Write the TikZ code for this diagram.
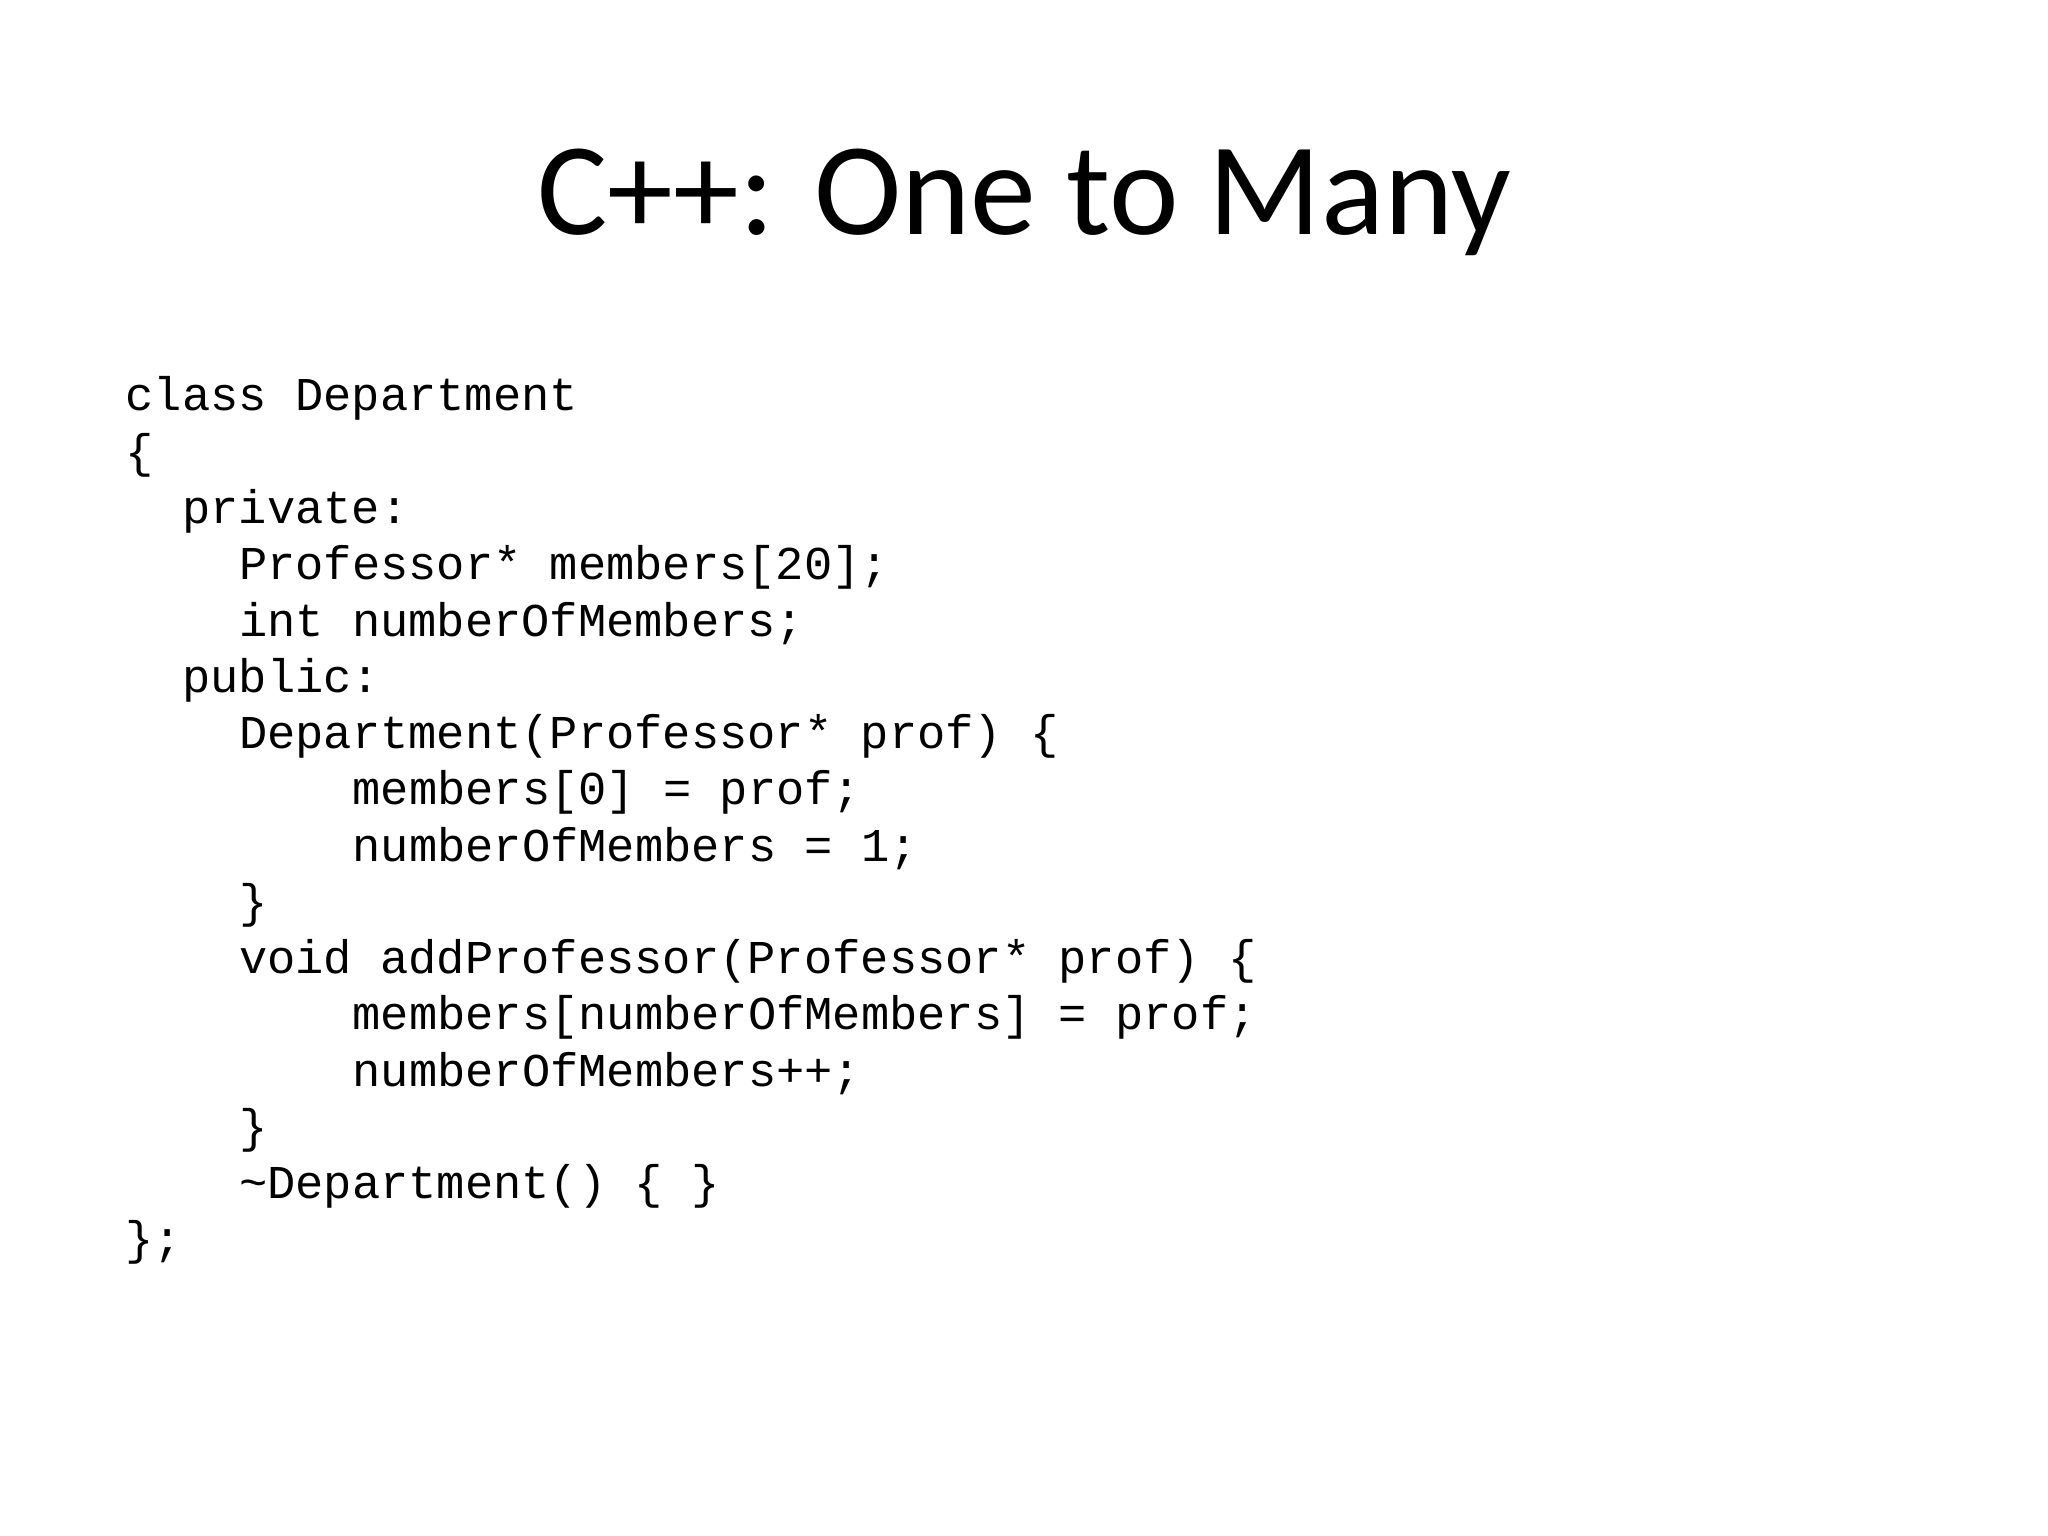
\documentclass[tikz,border=0pt]{standalone}
\usepackage{fontspec}
\setmainfont{Carlito}
\newfontfamily\codefont{Liberation Mono}
\begin{document}
\begin{tikzpicture}[x=1cm,y=1cm,
  code/.style={anchor=base west,inner sep=0pt,font=\codefont\fontsize{13.4pt}{15.9pt}\selectfont}]
\useasboundingbox (0,0) rectangle (20.48,-15.36);
\node[anchor=base,inner sep=0pt,font=\fontsize{37.5pt}{45pt}\selectfont] (title) at (10.24,-2.35) {C++: One to Many};
\def\cw{0.2835}
\def\lh{0.5625}
\node[code] (l1) at (1.25,-4.11) {class Department};
\node[code] (l2) at (1.25,-4.11-1*\lh) {\{};
\node[code] (l3) at (1.25+2*\cw,-4.11-2*\lh) {private:};
\node[code] (l4) at (1.25+4*\cw,-4.11-3*\lh) {Professor* members[20];};
\node[code] (l5) at (1.25+4*\cw,-4.11-4*\lh) {int numberOfMembers;};
\node[code] (l6) at (1.25+2*\cw,-4.11-5*\lh) {public:};
\node[code] (l7) at (1.25+4*\cw,-4.11-6*\lh) {Department(Professor* prof) \{};
\node[code] (l8) at (1.25+8*\cw,-4.11-7*\lh) {members[0] = prof;};
\node[code] (l9) at (1.25+8*\cw,-4.11-8*\lh) {numberOfMembers = 1;};
\node[code] (l10) at (1.25+4*\cw,-4.11-9*\lh) {\}};
\node[code] (l11) at (1.25+4*\cw,-4.11-10*\lh) {void addProfessor(Professor* prof) \{};
\node[code] (l12) at (1.25+8*\cw,-4.11-11*\lh) {members[numberOfMembers] = prof;};
\node[code] (l13) at (1.25+8*\cw,-4.11-12*\lh) {numberOfMembers++;};
\node[code] (l14) at (1.25+4*\cw,-4.11-13*\lh) {\}};
\node[code] (l15) at (1.25+4*\cw,-4.11-14*\lh) {\textasciitilde Department() \{ \}};
\node[code] (l16) at (1.25,-4.11-15*\lh) {\};};
\end{tikzpicture}
\end{document}
